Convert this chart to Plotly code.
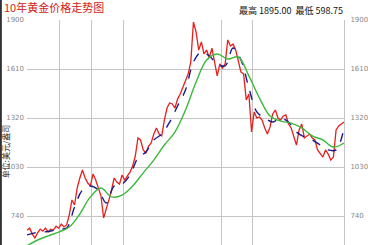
import plotly.graph_objects as go

# Monthly gold price (USD/oz)
price = [655, 668, 633, 610, 640, 662, 650, 668, 645, 662,
         657, 680, 668, 692, 675, 687, 746, 835, 805, 906,
         965, 1012, 965, 935, 918, 989, 953, 912, 859, 728,
         776, 835, 894, 965, 941, 929, 983, 953, 977, 1000,
         1036, 1095, 1202, 1190, 1131, 1113, 1154, 1172, 1225, 1261,
         1225, 1214, 1308, 1379, 1409, 1403, 1379, 1432, 1462, 1498,
         1533, 1580, 1651, 1888, 1829, 1722, 1770, 1699, 1722, 1675,
         1734, 1651, 1569, 1640, 1616, 1640, 1782, 1746, 1758, 1722,
         1663, 1592, 1580, 1427, 1462, 1237, 1356, 1320, 1326, 1308,
         1261, 1225, 1267, 1344, 1367, 1320, 1308, 1332, 1338, 1285,
         1261, 1202, 1160, 1249, 1285, 1202, 1214, 1225, 1202, 1190,
         1131, 1113, 1089, 1131, 1107, 1071, 1089, 1249, 1273, 1285,
         1296]
months = list(range(len(price)))

# short moving average (blue dashed), sampled every 3 months
ma_short_x = list(range(0, 121, 3))
ma_short = [628, 640, 645, 651, 663, 669, 793, 894, 918, 894,
            817, 918, 929, 983, 1083, 1119, 1190, 1225, 1296, 1391,
            1486, 1651, 1711, 1687, 1640, 1628, 1734, 1663, 1498, 1356,
            1320, 1296, 1320, 1296, 1237, 1208, 1190, 1160, 1131, 1131,
            1261]

# long moving average (green), sampled every 4 months
ma_long_x = list(range(0, 121, 4))
ma_long = [563, 598, 622, 645, 675, 752, 853, 906, 853, 864,
           918, 995, 1071, 1160, 1237, 1367, 1533, 1663, 1699, 1669,
           1681, 1569, 1438, 1332, 1302, 1290, 1261, 1214, 1190, 1148,
           1172]

y_ticks = [740, 1030, 1320, 1610, 1900]
y_labels = ["740", "1030", "1320", "1610", "1900"]
year_lines = [12.4, 24.4, 36.4, 73.5, 85.5]

title_text = "10年黄金价格走势图"
stats_text = "最高 1895.00  最低 598.75"
unit_text = "单位:美元/盎司"

fig = go.Figure()
fig.add_trace(go.Scatter(x=months, y=price, mode="lines",
                         line=dict(color="#e8201c", width=1.3), showlegend=False))
fig.add_trace(go.Scatter(x=ma_short_x, y=ma_short, mode="lines",
                         line=dict(color="#1c1a8a", width=1.4, dash="dash", shape="spline"),
                         showlegend=False))
fig.add_trace(go.Scatter(x=ma_long_x, y=ma_long, mode="lines",
                         line=dict(color="#3cb83c", width=1.4, shape="spline"),
                         showlegend=False, yaxis="y2"))

yr = [568.4, 1900]
fig.update_layout(
    width=368, height=245,
    margin=dict(l=27, r=21, t=20, b=0),
    paper_bgcolor="white", plot_bgcolor="white",
    xaxis=dict(range=[0, 120], tickvals=year_lines, showticklabels=False,
               showgrid=True, gridcolor="#c4c4c4", gridwidth=1, zeroline=False,
               showline=False, ticks=""),
    yaxis=dict(range=yr, tickvals=y_ticks, ticktext=y_labels, showgrid=True,
               gridcolor="#c4c4c4", gridwidth=1, zeroline=False, ticks="",
               ticklabelstandoff=2,
               tickfont=dict(family="DejaVu Sans", size=7, color="#888888")),
    yaxis2=dict(range=yr, tickvals=y_ticks, ticktext=y_labels, overlaying="y",
                side="right", showgrid=False, zeroline=False, ticks="",
                showline=True, linecolor="#c4c4c4", linewidth=1,
                ticklabelstandoff=4,
                tickfont=dict(family="DejaVu Sans", size=7, color="#888888")),
    font=dict(family="Noto Sans CJK SC"),
    annotations=[
        dict(text=title_text, xref="paper", yref="paper", x=-25/320, y=1 + 12.5/225,
             xanchor="left", yanchor="middle", showarrow=False,
             font=dict(family="Noto Sans CJK SC", size=11, color="#d42020")),
        dict(text=stats_text, xref="paper", yref="paper", x=(239-27)/320, y=1 + 9/225,
             xanchor="left", yanchor="middle", showarrow=False,
             font=dict(family="Noto Sans CJK SC", size=9, color="#111111")),
        dict(text=unit_text, xref="paper", yref="paper", x=-22/320, y=(245-152)/225,
             xanchor="center", yanchor="middle", showarrow=False, textangle=-90,
             font=dict(family="Noto Sans CJK SC", size=8, color="#222222")),
    ],
    shapes=[dict(type="line", xref="paper", yref="paper", x0=-26.3/320, x1=-26.3/320,
                 y0=0, y1=1 + 20/225, line=dict(color="#000000", width=1.5))],
)
fig.write_html("out.html")
